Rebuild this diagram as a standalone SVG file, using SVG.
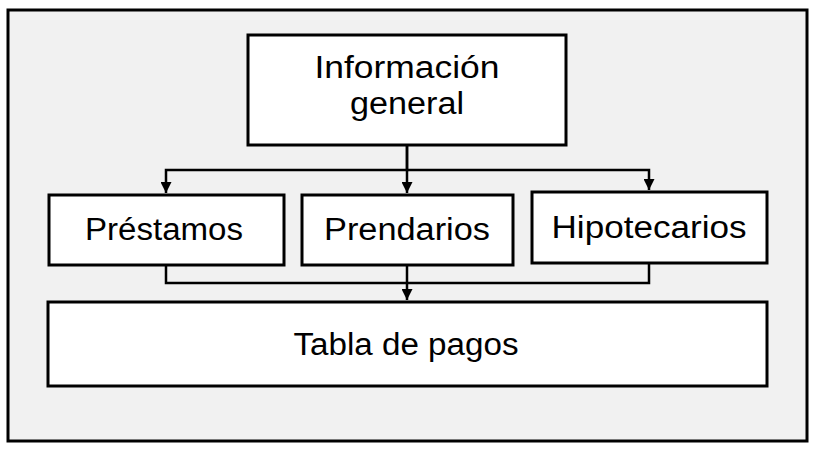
<svg xmlns="http://www.w3.org/2000/svg" width="820" height="449" viewBox="0 0 820 449">
<style>
.box{fill:#fff;stroke:#000;stroke-width:3}
.lbl{font-family:"Liberation Sans",Arial,sans-serif;font-size:31px;fill:#000;text-anchor:middle}
.conn{fill:none;stroke:#000;stroke-width:2.5}
</style>
<defs>
<marker id="arr" markerWidth="11" markerHeight="11" refX="10" refY="5" orient="auto" markerUnits="userSpaceOnUse" viewBox="0 0 10 10">
<path d="M0,0 L10,5 L0,10 Z" fill="#000"/>
</marker>
</defs>
<rect x="8" y="10" width="799" height="431" fill="#f1f1f1" stroke="#000" stroke-width="3"/>
<g id="connectors">
<path class="conn" d="M407,146 V170 H166 V193" marker-end="url(#arr)"/>
<path class="conn" d="M407,146 V193" marker-end="url(#arr)"/>
<path class="conn" d="M407,170 H649 V190" marker-end="url(#arr)"/>
<path class="conn" d="M166,266 V283 H649 V264"/>
<path class="conn" d="M407,266 V300" marker-end="url(#arr)"/>
</g>
<g id="informacion">
<rect class="box" x="248" y="35" width="318" height="110"/>
<text class="lbl" x="407" y="78" textLength="185" lengthAdjust="spacingAndGlyphs">Información</text>
<text class="lbl" x="407" y="114" textLength="114" lengthAdjust="spacingAndGlyphs">general</text>
</g>
<g id="prestamos">
<rect class="box" x="49" y="195" width="235" height="70"/>
<text class="lbl" x="164" y="240" textLength="158" lengthAdjust="spacingAndGlyphs">Préstamos</text>
</g>
<g id="prendarios">
<rect class="box" x="302" y="195" width="211" height="70"/>
<text class="lbl" x="407" y="240" textLength="166" lengthAdjust="spacingAndGlyphs">Prendarios</text>
</g>
<g id="hipotecarios">
<rect class="box" x="532" y="192" width="235" height="71"/>
<text class="lbl" x="649" y="238" textLength="195" lengthAdjust="spacingAndGlyphs">Hipotecarios</text>
</g>
<g id="tabla">
<rect class="box" x="48" y="302" width="719" height="84"/>
<text class="lbl" x="406" y="355" textLength="225" lengthAdjust="spacingAndGlyphs">Tabla de pagos</text>
</g>
</svg>
